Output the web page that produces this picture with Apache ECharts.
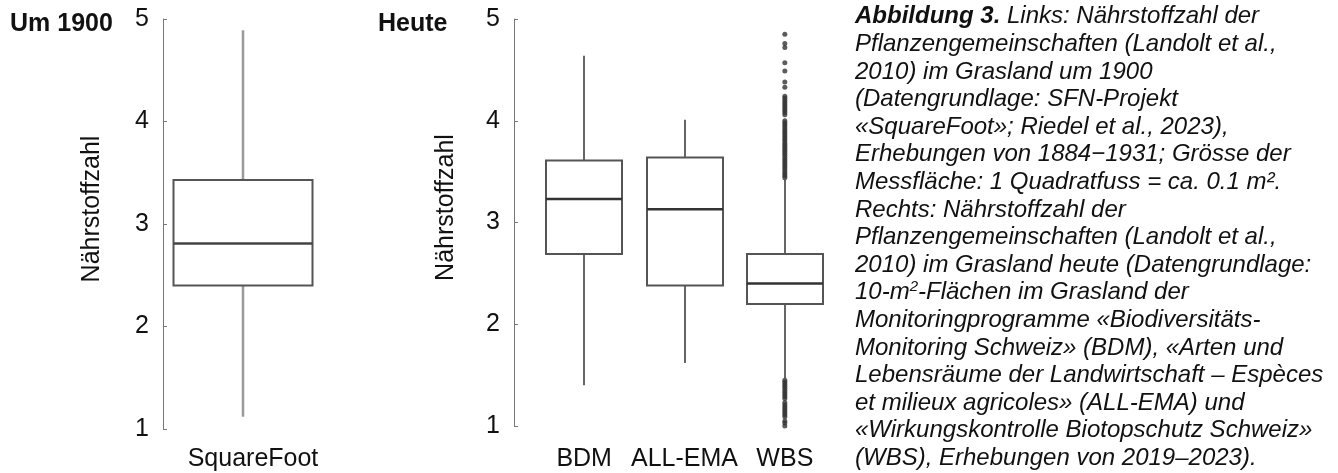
<!DOCTYPE html>
<html>
<head>
<meta charset="utf-8">
<script src="https://cdn.jsdelivr.net/npm/echarts@6/dist/echarts.min.js"></script>
<style>
html,body{margin:0;padding:0;background:#fff;}
#chart{width:1338px;height:473px;}
</style>
</head>
<body>
<div id="chart"></div>
<script>
// ---- data ----
const yTicks = [1, 2, 3, 4, 5];
const leftCategories = ['SquareFoot'];
// [lower whisker, Q1, median, Q3, upper whisker]
const leftStats = [[1.12, 2.40, 2.81, 3.43, 4.89]];
const rightCategories = ['BDM', 'ALL-EMA', 'WBS'];
const rightStats = [
  [1.40, 2.69, 3.23, 3.61, 4.64],
  [1.62, 2.38, 3.13, 3.64, 4.01],
  [1.47, 2.20, 2.40, 2.69, 3.42]
];
const wbsOutliers = [
  4.85, 4.76, 4.72, 4.57, 4.49, 4.38, 4.33,
  4.24, 4.22, 4.20, 4.18, 4.16, 4.14, 4.12, 4.10, 4.08, 4.06,
  4.00, 3.98, 3.96, 3.94, 3.92, 3.90, 3.88, 3.86, 3.84, 3.82, 3.80,
  3.78, 3.76, 3.74, 3.72, 3.70, 3.68, 3.66, 3.64, 3.62, 3.60,
  3.58, 3.56, 3.54, 3.52, 3.50, 3.48, 3.46, 3.44,
  1.45, 1.43, 1.41, 1.39, 1.37, 1.35, 1.33, 1.31, 1.29, 1.27,
  1.23, 1.21, 1.19, 1.17, 1.15, 1.13, 1.11, 1.09,
  1.05, 1.03, 1.00
];
const captionLines = [
  '{b|Abbildung 3.} Links: Nährstoffzahl der',
  'Pflanzengemeinschaften (Landolt et al.,',
  '2010) im Grasland um 1900',
  '(Datengrundlage: SFN-Projekt',
  '«SquareFoot»; Riedel et al., 2023),',
  'Erhebungen von 1884−1931; Grösse der',
  'Messfläche: 1 Quadratfuss = ca. 0.1 m².',
  'Rechts: Nährstoffzahl der',
  'Pflanzengemeinschaften (Landolt et al.,',
  '2010) im Grasland heute (Datengrundlage:',
  '10-m{s|2}-Flächen im Grasland der',
  'Monitoringprogramme «Biodiversitäts-',
  'Monitoring Schweiz» (BDM), «Arten und',
  'Lebensräume der Landwirtschaft – Espèces',
  'et milieux agricoles» (ALL-EMA) und',
  '«Wirkungskontrolle Biotopschutz Schweiz»',
  '(WBS), Erhebungen von 2019–2023).'
];

// ---- rendering ----
const sans = '"Liberation Sans",Arial,sans-serif';

function boxRenderer(boxW, boxColor, medColor, whiskerColor, boxLw, medLw, whiskerLw) {
  return function (params, api) {
    const xi = api.value(0);
    const lo = api.coord([xi, api.value(1)]);
    const q1 = api.coord([xi, api.value(2)]);
    const md = api.coord([xi, api.value(3)]);
    const q3 = api.coord([xi, api.value(4)]);
    const hi = api.coord([xi, api.value(5)]);
    const cx = Math.round(q1[0]);
    const half = boxW / 2;
    return {
      type: 'group',
      children: [
        { type: 'line', shape: { x1: cx, y1: hi[1], x2: cx, y2: q3[1] },
          style: { stroke: whiskerColor, lineWidth: whiskerLw } },
        { type: 'line', shape: { x1: cx, y1: q1[1], x2: cx, y2: lo[1] },
          style: { stroke: whiskerColor, lineWidth: whiskerLw } },
        { type: 'rect', shape: { x: cx - half, y: q3[1], width: boxW, height: q1[1] - q3[1] },
          style: { fill: '#fff', stroke: boxColor, lineWidth: boxLw } },
        { type: 'line', shape: { x1: cx - half, y1: md[1], x2: cx + half, y2: md[1] },
          style: { stroke: medColor, lineWidth: medLw } }
      ]
    };
  };
}

function yAxisCfg(gridIndex, offset, nameGap) {
  return {
    type: 'value', gridIndex: gridIndex, min: yTicks[0], max: yTicks[yTicks.length - 1], interval: 1,
    offset: offset,
    name: 'Nährstoffzahl', nameLocation: 'middle', nameGap: nameGap, nameRotate: 90,
    nameTextStyle: { fontFamily: sans, fontSize: 25, color: '#111', padding: [0, 0, 0, 30] },
    axisLine: { show: true, lineStyle: { color: '#777', width: 1 } },
    axisTick: { show: true, inside: true, length: 4, lineStyle: { color: '#777' } },
    axisLabel: { fontFamily: sans, fontSize: 25, color: '#111', margin: 14 },
    splitLine: { show: false }
  };
}

const chart = echarts.init(document.getElementById('chart'), null, { renderer: 'canvas' });
chart.setOption({
  animation: false,
  backgroundColor: '#fff',
  grid: [
    { left: 163, top: 19, width: 160, height: 410 },
    { left: 534, top: 19, width: 301, height: 407 }
  ],
  xAxis: [
    { type: 'category', gridIndex: 0, data: leftCategories,
      axisLine: { show: false }, axisTick: { show: false },
      axisLabel: { interval: 0, fontFamily: sans, fontSize: 25, color: '#111', margin: 18, padding: [0, 0, 0, 20] } },
    { type: 'category', gridIndex: 1, data: rightCategories,
      axisLine: { show: false }, axisTick: { show: false },
      axisLabel: { interval: 0, fontFamily: sans, fontSize: 25, color: '#111', margin: 21 } }
  ],
  yAxis: [yAxisCfg(0, 0, 58), yAxisCfg(1, 20, 55)],
  graphic: [
    { type: 'text', left: 10, top: 12, style: { text: 'Um 1900', fontFamily: sans, fontWeight: 'bold', fontSize: 25, fill: '#111' } },
    { type: 'text', left: 378, top: 12, style: { text: 'Heute', fontFamily: sans, fontWeight: 'bold', fontSize: 25, fill: '#111' } },
    { type: 'text', left: 855, top: 3,
      style: {
        text: captionLines.join('\n'),
        fontFamily: sans, fontStyle: 'italic', fontSize: 24, lineHeight: 27.6, fill: '#111',
        rich: {
          b: { fontFamily: sans, fontStyle: 'italic', fontWeight: 'bold', fontSize: 24, lineHeight: 27.6, fill: '#111' },
          s: { fontFamily: sans, fontStyle: 'italic', fontSize: 15, lineHeight: 27.6, verticalAlign: 'top', padding: [0, 0, 10, 0], fill: '#111' }
        }
      }
    }
  ],
  series: [
    { type: 'custom', xAxisIndex: 0, yAxisIndex: 0,
      renderItem: boxRenderer(139, '#555', '#444', '#999', 2, 2.5, 2.5),
      encode: { x: 0, y: [1, 2, 3, 4, 5] },
      data: leftStats.map((s, i) => [i].concat(s)) },
    { type: 'custom', xAxisIndex: 1, yAxisIndex: 1,
      renderItem: boxRenderer(76, '#555', '#333', '#666', 2, 2.5, 2),
      encode: { x: 0, y: [1, 2, 3, 4, 5] },
      data: rightStats.map((s, i) => [i].concat(s)) },
    { type: 'scatter', xAxisIndex: 1, yAxisIndex: 1, symbol: 'circle', symbolSize: 5,
      itemStyle: { color: '#333' },
      data: wbsOutliers.map(v => [2, v]) }
  ]
});
</script>
</body>
</html>
